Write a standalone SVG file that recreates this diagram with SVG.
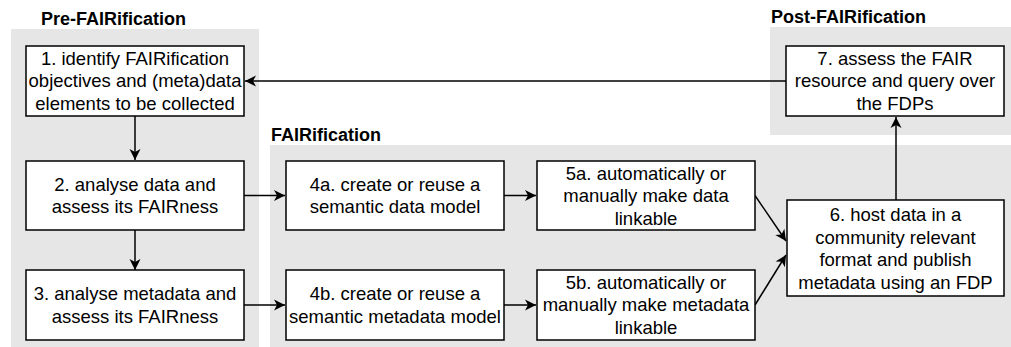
<svg xmlns="http://www.w3.org/2000/svg" width="1011" height="347" viewBox="0 0 1011 347">
<style>
.bg{fill:#e6e6e6;stroke:none}
.title{font-family:"Liberation Sans",Arial,Helvetica,sans-serif;font-size:18px;font-weight:bold;fill:#000}
.box{fill:#fff;stroke:#000;stroke-width:1.5}
.t{font-family:"Liberation Sans",Arial,Helvetica,sans-serif;font-size:18.5px;fill:#000;text-anchor:middle}
.c{fill:none;stroke:#000;stroke-width:1.5}
</style>
<defs>
<marker id="ah" viewBox="-12 -6 13 12" refX="0" refY="0" markerWidth="13" markerHeight="12" markerUnits="userSpaceOnUse" orient="auto">
<path d="M0,0 L-11,-5.5 L-8,0 L-11,5.5 Z" fill="#000"/>
</marker>
</defs>
<g id="stage-pre">
<rect class="bg" x="11" y="29" width="248" height="318"/>
<text class="title" x="41" y="25">Pre-FAIRification</text>
</g>
<g id="stage-fair">
<rect class="bg" x="270" y="145" width="741" height="202"/>
<text class="title" x="271" y="141">FAIRification</text>
</g>
<g id="stage-post">
<rect class="bg" x="770" y="27" width="241" height="108"/>
<text class="title" x="771" y="23">Post-FAIRification</text>
</g>
<g id="connectors">
<line class="c" x1="786" y1="81" x2="245" y2="81" marker-end="url(#ah)"/>
<line class="c" x1="135" y1="116" x2="135" y2="160" marker-end="url(#ah)"/>
<line class="c" x1="135" y1="230" x2="135" y2="270" marker-end="url(#ah)"/>
<line class="c" x1="244" y1="195.5" x2="285" y2="195.5" marker-end="url(#ah)"/>
<line class="c" x1="244" y1="305" x2="285" y2="305" marker-end="url(#ah)"/>
<line class="c" x1="504" y1="195.5" x2="536" y2="195.5" marker-end="url(#ah)"/>
<line class="c" x1="504" y1="305" x2="536" y2="305" marker-end="url(#ah)"/>
<line class="c" x1="755" y1="195.5" x2="786" y2="241" marker-end="url(#ah)"/>
<line class="c" x1="755" y1="305" x2="786" y2="255" marker-end="url(#ah)"/>
<line class="c" x1="896" y1="200" x2="896" y2="117" marker-end="url(#ah)"/>
</g>
<g id="n1">
<rect class="box" x="26" y="46" width="218" height="70"/>
<text class="t" x="135" y="64.5">1. identify FAIRification</text>
<text class="t" x="135" y="87">objectives and (meta)data</text>
<text class="t" x="135" y="109.5">elements to be collected</text>
</g>
<g id="n2">
<rect class="box" x="26" y="161" width="218" height="69"/>
<text class="t" x="135" y="190.5">2. analyse data and</text>
<text class="t" x="135" y="213">assess its FAIRness</text>
</g>
<g id="n3">
<rect class="box" x="26" y="270" width="218" height="70"/>
<text class="t" x="135" y="300">3. analyse metadata and</text>
<text class="t" x="135" y="322.5">assess its FAIRness</text>
</g>
<g id="n4a">
<rect class="box" x="286" y="161" width="218" height="69"/>
<text class="t" x="395" y="190.5">4a. create or reuse a</text>
<text class="t" x="395" y="213">semantic data model</text>
</g>
<g id="n4b">
<rect class="box" x="286" y="270" width="218" height="70"/>
<text class="t" x="395" y="300">4b. create or reuse a</text>
<text class="t" x="395" y="322.5">semantic metadata model</text>
</g>
<g id="n5a">
<rect class="box" x="537" y="161" width="218" height="69"/>
<text class="t" x="646" y="179.5">5a. automatically or</text>
<text class="t" x="646" y="202">manually make data</text>
<text class="t" x="646" y="224.5">linkable</text>
</g>
<g id="n5b">
<rect class="box" x="537" y="270" width="218" height="70"/>
<text class="t" x="646" y="288.5">5b. automatically or</text>
<text class="t" x="646" y="311">manually make metadata</text>
<text class="t" x="646" y="333.5">linkable</text>
</g>
<g id="n6">
<rect class="box" x="787" y="200" width="217" height="96"/>
<text class="t" x="895.5" y="221">6. host data in a</text>
<text class="t" x="895.5" y="243.5">community relevant</text>
<text class="t" x="895.5" y="266">format and publish</text>
<text class="t" x="895.5" y="288.5">metadata using an FDP</text>
</g>
<g id="n7">
<rect class="box" x="786" y="46" width="218" height="70"/>
<text class="t" x="895" y="64.5">7. assess the FAIR</text>
<text class="t" x="895" y="87">resource and query over</text>
<text class="t" x="895" y="109.5">the FDPs</text>
</g>
</svg>
